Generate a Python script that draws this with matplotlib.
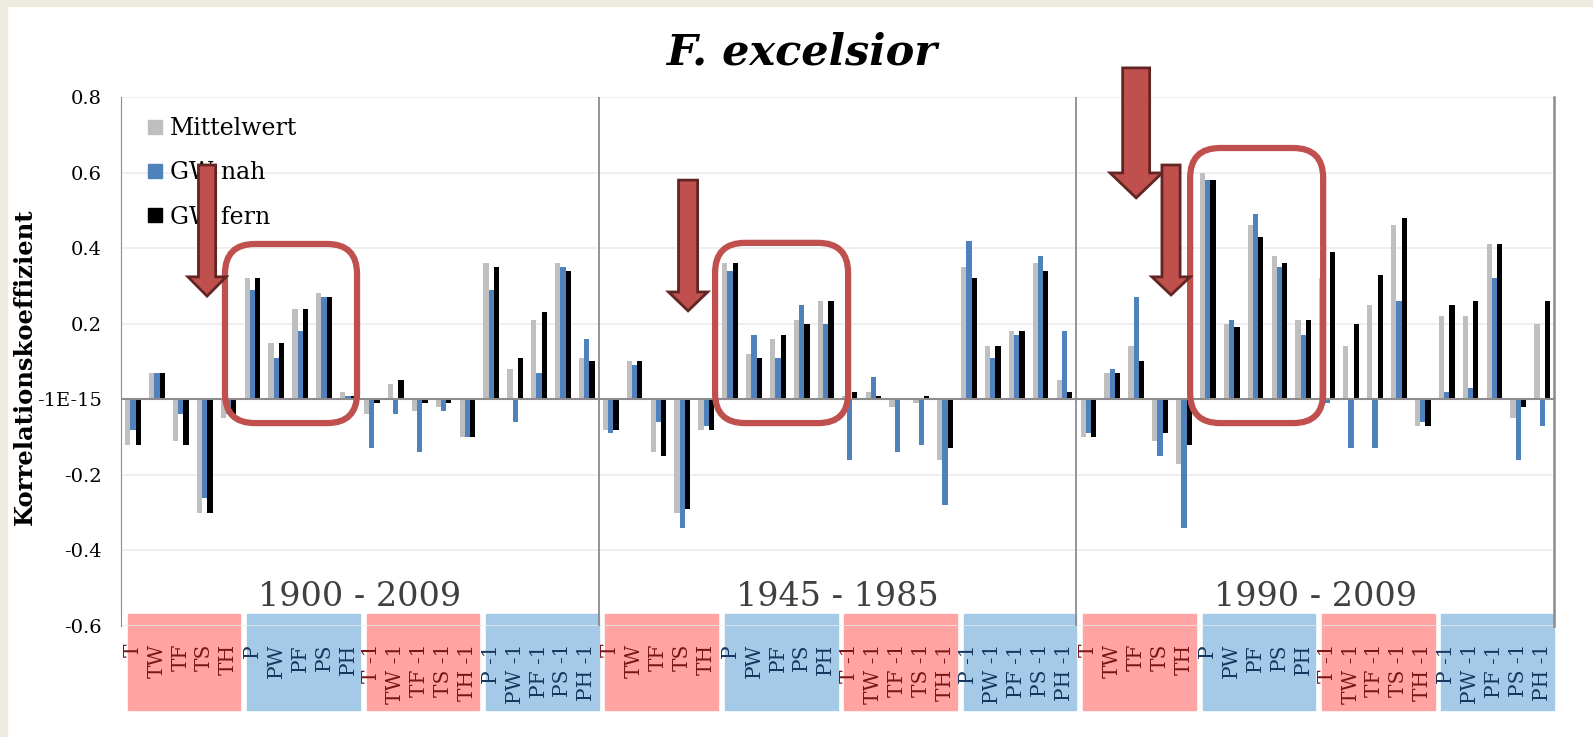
import matplotlib.pyplot as plt
import matplotlib.patches as patches
from matplotlib.lines import Line2D
import numpy as np

plt.rcParams['font.family'] = ['DejaVu Serif']

# ---------------------------------------------------------------
# data
# ---------------------------------------------------------------
categories = ["T", "TW", "TF", "TS", "TH", "P", "PW", "PF", "PS", "PH",
              "T -1", "TW -1", "TF -1", "TS -1", "TH -1",
              "P -1", "PW -1", "PF -1", "PS -1", "PH -1"]
periods = ["1900 - 2009", "1945 - 1985", "1990 - 2009"]
series_names = ["Mittelwert", "GW nah", "GW fern"]

mittelwert_1900 = [-0.12, 0.07, -0.11, -0.30, -0.05, 0.32, 0.15, 0.24, 0.28, 0.02,
                   -0.04, 0.04, -0.03, -0.02, -0.10, 0.36, 0.08, 0.21, 0.36, 0.11]
gw_nah_1900 = [-0.08, 0.07, -0.04, -0.26, -0.04, 0.29, 0.11, 0.18, 0.27, 0.01,
               -0.13, -0.04, -0.14, -0.03, -0.10, 0.29, -0.06, 0.07, 0.35, 0.16]
gw_fern_1900 = [-0.12, 0.07, -0.12, -0.30, -0.04, 0.32, 0.15, 0.24, 0.27, 0.01,
                -0.01, 0.05, -0.01, -0.01, -0.10, 0.35, 0.11, 0.23, 0.34, 0.10]

mittelwert_1945 = [-0.08, 0.10, -0.14, -0.30, -0.08, 0.36, 0.12, 0.16, 0.21, 0.26,
                   0.01, 0.02, -0.02, -0.01, -0.16, 0.35, 0.14, 0.18, 0.36, 0.05]
gw_nah_1945 = [-0.09, 0.09, -0.06, -0.34, -0.07, 0.34, 0.17, 0.11, 0.25, 0.20,
               -0.16, 0.06, -0.14, -0.12, -0.28, 0.42, 0.11, 0.17, 0.38, 0.18]
gw_fern_1945 = [-0.08, 0.10, -0.15, -0.29, -0.08, 0.36, 0.11, 0.17, 0.20, 0.26,
                0.02, 0.01, 0.0, 0.01, -0.13, 0.32, 0.14, 0.18, 0.34, 0.02]

mittelwert_1990 = [-0.10, 0.07, 0.14, -0.11, -0.17, 0.60, 0.20, 0.46, 0.38, 0.21,
                   0.32, 0.14, 0.25, 0.46, -0.07, 0.22, 0.22, 0.41, -0.05, 0.20]
gw_nah_1990 = [-0.09, 0.08, 0.27, -0.15, -0.34, 0.58, 0.21, 0.49, 0.35, 0.17,
               -0.01, -0.13, -0.13, 0.26, -0.06, 0.02, 0.03, 0.32, -0.16, -0.07]
gw_fern_1990 = [-0.10, 0.07, 0.10, -0.09, -0.12, 0.58, 0.19, 0.43, 0.36, 0.21,
                0.39, 0.20, 0.33, 0.48, -0.07, 0.25, 0.26, 0.41, -0.02, 0.26]

y_ticks = [0.8, 0.6, 0.4, 0.2, 0.0, -0.2, -0.4, -0.6]
y_tick_labels = ["0.8", "0.6", "0.4", "0.2", "-1E-15", "-0.2", "-0.4", "-0.6"]

# ---------------------------------------------------------------
# styling
# ---------------------------------------------------------------
SERIES_COLORS = ["#BFBFBF", "#4F81BD", "#000000"]
BOX_RED, BOX_BLUE = "#FFA3A3", "#A5CAE7"
TXT_RED, TXT_BLUE = "#7A1515", "#17365D"
MARK_RED, MARK_EDGE = "#C0504D", "#632523"
BAR_W = 0.22

fig = plt.figure(figsize=(15.93, 7.37), dpi=100, facecolor="white")
ax = fig.add_axes([0.0760, 0.1506, 0.8996, 0.7178])

# beige slide frame on left / top
fig.patches.append(patches.Rectangle((0, 0), 7 / 1593, 1, transform=fig.transFigure,
                                     color="#EEEBE0", zorder=0))
fig.patches.append(patches.Rectangle((0, 1 - 6 / 737), 1, 6 / 737, transform=fig.transFigure,
                                     color="#EEEBE0", zorder=0))

n_cat = len(categories)
series = [mittelwert_1900 + mittelwert_1945 + mittelwert_1990,
          gw_nah_1900 + gw_nah_1945 + gw_nah_1990,
          gw_fern_1900 + gw_fern_1945 + gw_fern_1990]
x = np.arange(n_cat * len(periods))

for i, (vals, col, name) in enumerate(zip(series, SERIES_COLORS, series_names)):
    ax.bar(x + (i - 1) * BAR_W, vals, width=BAR_W, color=col, label=name, zorder=3)

ax.set_xlim(-0.5, len(x) - 0.5)
ax.set_ylim(-0.6, 0.8)
ax.set_yticks(y_ticks)
ax.set_yticklabels(y_tick_labels, fontsize=14)
ax.tick_params(axis="y", length=0, pad=14)
ax.set_xticks([])

ax.set_axisbelow(True)
ax.yaxis.grid(True, color="#EBEBEB", lw=1.1)
ax.axhline(0, color="#8C8C8C", lw=1.5, zorder=4)
for s in ["top", "bottom"]:
    ax.spines[s].set_visible(False)
ax.spines["left"].set_color("#8C8C8C")
ax.spines["right"].set_color("#8C8C8C")
ax.spines["right"].set_linewidth(1.8)
for p in range(1, len(periods)):
    ax.axvline(p * n_cat - 0.5, color="#8C8C8C", lw=1.3, zorder=4)

ax.set_ylabel("Korrelationskoeffizient", fontsize=17.5, fontweight="bold")
ax.yaxis.set_label_coords(-0.0586, 0.49)

fig.text(0.503, 0.929, "F. excelsior", ha="center", va="center",
         fontsize=31, fontweight="bold", fontstyle="italic")

# multi-level category axis: coloured blocks, rotated labels, period names
xt = ax.get_xaxis_transform()
for p, period in enumerate(periods):
    base = p * n_cat
    ax.text(base + (n_cat - 1) / 2, 0.055, period, transform=xt, ha="center", va="center",
            fontsize=24, color="#404040")
    for g in range(4):
        red = g % 2 == 0
        ax.add_patch(patches.Rectangle((base + g * 5 - 0.5 + 0.28, -0.159), 4.72, 0.182,
                                       transform=xt, color=BOX_RED if red else BOX_BLUE,
                                       clip_on=False, zorder=0.4))
        for k in range(5):
            c = g * 5 + k
            ax.text(base + c, -0.034, categories[c], transform=xt, rotation=90,
                    ha="center", va="top", fontsize=14.5,
                    color=TXT_RED if red else TXT_BLUE)

# legend
handles = [Line2D([], [], marker="s", linestyle="none", markersize=10,
                  markerfacecolor=c, markeredgecolor=c) for c in SERIES_COLORS]
ax.legend(handles, series_names, loc="upper left", bbox_to_anchor=(0.0174, 0.962),
          frameon=False, fontsize=17, handlelength=0.8, handletextpad=0.2,
          labelspacing=0.9, borderpad=0, borderaxespad=0)

# rounded highlight boxes (category span, value span)
ax_w_px = fig.get_figwidth() * fig.dpi * ax.get_position().width
ax_h_px = fig.get_figheight() * fig.dpi * ax.get_position().height
px_x = ax_w_px / len(x)
px_y = ax_h_px / 1.4
aspect = px_x / px_y
highlight_boxes = [(3.85, 9.38, -0.063, 0.411),
                   (24.37, 29.94, -0.063, 0.414),
                   (44.26, 49.83, -0.063, 0.665)]
for x0, x1, y0, y1 in highlight_boxes:
    ax.add_patch(patches.FancyBboxPatch((x0, y0), x1 - x0, y1 - y0,
                                        boxstyle=f"round,pad=0,rounding_size={30 / px_x:.3f}",
                                        mutation_aspect=aspect, fill=False,
                                        edgecolor=MARK_RED, lw=4.5, zorder=6, clip_on=False))

# block arrows: centre, shaft half-width, head half-width, top, head start, tip
arrows = [(3.10, 0.36, 0.80, 0.620, 0.324, 0.273),
          (23.24, 0.40, 0.82, 0.580, 0.284, 0.234),
          (42.00, 0.565, 1.09, 0.877, 0.599, 0.533),
          (43.46, 0.38, 0.80, 0.620, 0.324, 0.276)]
for cx, sw, hw, top, head, tip in arrows:
    verts = [(cx - sw, top), (cx + sw, top), (cx + sw, head), (cx + hw, head),
             (cx, tip), (cx - hw, head), (cx - sw, head)]
    ax.add_patch(patches.Polygon(verts, closed=True, facecolor=MARK_RED,
                                 edgecolor=MARK_EDGE, lw=2, zorder=7, clip_on=False))

fig.savefig("out.png", dpi=100)
